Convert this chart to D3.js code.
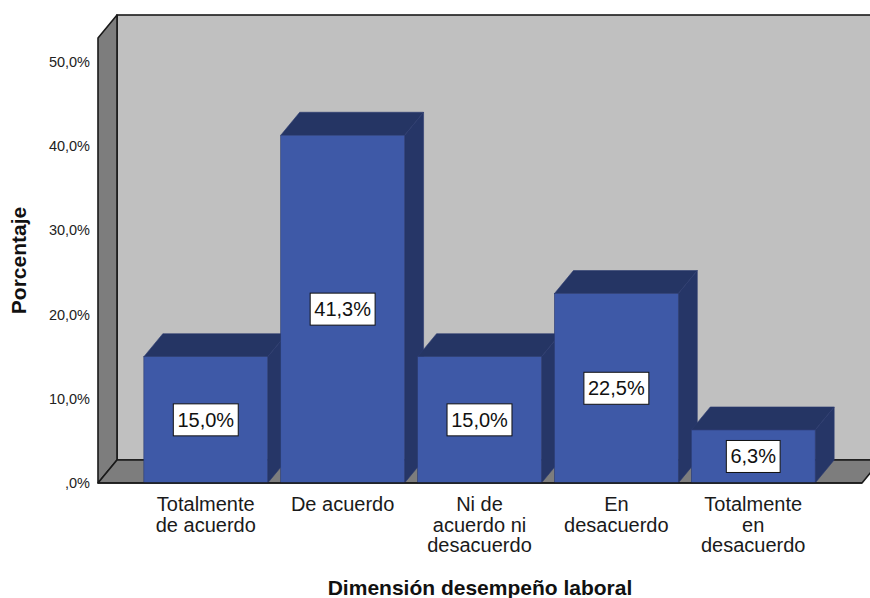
<!DOCTYPE html>
<html>
<head>
<meta charset="utf-8">
<script src="https://cdn.jsdelivr.net/npm/d3@7"></script>
<style>
  html, body { margin: 0; padding: 0; background: #ffffff; }
  svg { display: block; font-family: "Liberation Sans", Arial, sans-serif; }
</style>
</head>
<body>
<svg id="chart" width="870" height="598"></svg>
<script>
// ---- data ----
const categories = [
  ["Totalmente", "de acuerdo"],
  ["De acuerdo"],
  ["Ni de", "acuerdo ni", "desacuerdo"],
  ["En", "desacuerdo"],
  ["Totalmente", "en", "desacuerdo"]
];
const values = [15.0, 41.3, 15.0, 22.5, 6.3];
const valueLabels = ["15,0%", "41,3%", "15,0%", "22,5%", "6,3%"];
const tickValues = [0, 10, 20, 30, 40, 50];
const tickLabels = [",0%", "10,0%", "20,0%", "30,0%", "40,0%", "50,0%"];
const xTitle = "Dimensión desempeño laboral";
const yTitle = "Porcentaje";

// ---- layout ----
const svg = d3.select("#chart");
const pLeft = 98, pRight = 862, pBottom = 483, pTop = 38;
const dx = 19, dy = -23;
const yMax = 52.85;

const y = d3.scaleLinear().domain([0, yMax]).range([pBottom, pTop]);
const x = d3.scaleBand()
  .domain(d3.range(values.length))
  .range([pLeft + 39, pLeft + 39 + 685])
  .paddingInner(0.095)
  .paddingOuter(0.05);

const wallStroke = "#1a1a1a";

// back wall
svg.append("rect")
  .attr("x", pLeft + dx).attr("y", pTop + dy)
  .attr("width", pRight - pLeft + 20).attr("height", pBottom - pTop)
  .attr("fill", "#c0c0c0").attr("stroke", wallStroke).attr("stroke-width", 1.6);

// left wall
svg.append("polygon")
  .attr("points", [[pLeft, pTop], [pLeft + dx, pTop + dy], [pLeft + dx, pBottom + dy], [pLeft, pBottom]].join(" "))
  .attr("fill", "#7d7d7d").attr("stroke", wallStroke).attr("stroke-width", 1.6)
  .attr("stroke-linejoin", "round");

// floor
svg.append("polygon")
  .attr("points", [[pLeft, pBottom], [pLeft + dx, pBottom + dy], [pRight + dx, pBottom + dy], [pRight, pBottom]].join(" "))
  .attr("fill", "#7d7d7d").attr("stroke", wallStroke).attr("stroke-width", 1.6)
  .attr("stroke-linejoin", "round");

// bars
const front = "#3e59a7", topC = "#253564", side = "#263667", edge = "#2b3b70";
const bars = svg.append("g").selectAll("g").data(values).join("g");
bars.each(function(v, i) {
  const g = d3.select(this);
  const x0 = x(i), w = x.bandwidth(), y0 = y(v), y1 = y(0);
  g.append("polygon")
    .attr("points", [[x0 + w, y0], [x0 + w + dx, y0 + dy], [x0 + w + dx, y1 + dy], [x0 + w, y1]].join(" "))
    .attr("fill", side).attr("stroke", edge).attr("stroke-width", 0.6);
  g.append("polygon")
    .attr("points", [[x0, y0], [x0 + dx, y0 + dy], [x0 + w + dx, y0 + dy], [x0 + w, y0]].join(" "))
    .attr("fill", topC).attr("stroke", edge).attr("stroke-width", 0.6);
  g.append("rect")
    .attr("x", x0).attr("y", y0).attr("width", w).attr("height", y1 - y0)
    .attr("fill", front).attr("stroke", edge).attr("stroke-width", 0.6);
});

// front floor edge on top
svg.append("line")
  .attr("x1", pLeft).attr("x2", pRight).attr("y1", pBottom).attr("y2", pBottom)
  .attr("stroke", wallStroke).attr("stroke-width", 1.6);

// value label boxes
bars.each(function(v, i) {
  const g = d3.select(this);
  const cx = x(i) + x.bandwidth() / 2;
  const cy = (y(v) + y(0)) / 2;
  const t = g.append("text")
    .attr("x", cx).attr("y", cy + 7)
    .attr("text-anchor", "middle")
    .attr("font-size", 20).attr("fill", "#111")
    .text(valueLabels[i]);
  const bb = t.node().getBBox();
  g.insert("rect", "text")
    .attr("x", cx - bb.width / 2 - 4).attr("y", cy - 16)
    .attr("width", bb.width + 8).attr("height", 32)
    .attr("fill", "#ffffff").attr("stroke", "#111").attr("stroke-width", 1);
});

// y tick labels
svg.append("g").selectAll("text").data(tickValues).join("text")
  .attr("x", 90).attr("y", d => y(d) + 5)
  .attr("text-anchor", "end")
  .attr("font-size", 14.5).attr("fill", "#222")
  .text((d, i) => tickLabels[i]);

// category labels
svg.append("g").selectAll("text").data(categories).join("text")
  .attr("text-anchor", "middle")
  .attr("font-size", 20).attr("fill", "#1a1a1a")
  .each(function(lines, i) {
    const t = d3.select(this);
    lines.forEach((ln, k) => {
      t.append("tspan")
        .attr("x", x(i) + x.bandwidth() / 2)
        .attr("y", 511 + k * 20.5)
        .text(ln);
    });
  });

// axis titles
svg.append("text")
  .attr("x", (pLeft + pRight) / 2).attr("y", 595)
  .attr("text-anchor", "middle")
  .attr("font-size", 21).attr("font-weight", "bold").attr("fill", "#111")
  .text(xTitle);

svg.append("text")
  .attr("transform", `translate(26,${(pTop + pBottom) / 2}) rotate(-90)`)
  .attr("text-anchor", "middle")
  .attr("font-size", 21).attr("font-weight", "bold").attr("fill", "#111")
  .text(yTitle);
</script>
</body>
</html>
